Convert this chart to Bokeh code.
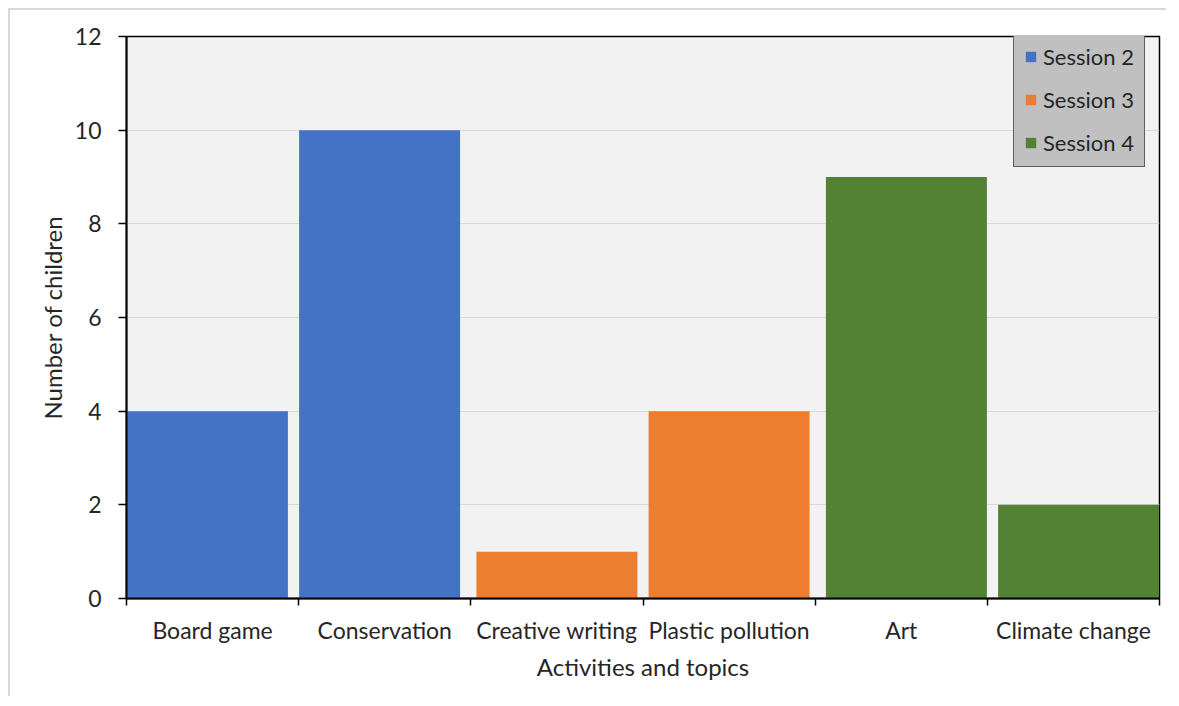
from bokeh.plotting import figure
from bokeh.models import FixedTicker, ColumnDataSource
from bokeh.embed import file_html
from bokeh.resources import INLINE

categories = ["Board game", "Conservation", "Creative writing",
              "Plastic pollution", "Art", "Climate change"]
sessions = ["Session 2", "Session 2", "Session 3", "Session 3", "Session 4", "Session 4"]
values = [4, 10, 1, 4, 9, 2]
session_names = ["Session 2", "Session 3", "Session 4"]
y_ticks = [0, 2, 4, 6, 8, 10, 12]

colors = {"Session 2": "#4472C4", "Session 3": "#ED7D31", "Session 4": "#548235"}
offsets = {"Session 2": -0.03, "Session 3": 0.0, "Session 4": 0.03}

FONT = "Lato"
TXT = "#262626"

p = figure(width=1158, height=688, output_backend="svg", toolbar_location=None,
           x_range=(0, len(categories)), y_range=(0, 12),
           min_border_left=116, min_border_right=9, min_border_top=26, min_border_bottom=100)

for s in session_names:
    idx = [i for i, ss in enumerate(sessions) if ss == s]
    src = ColumnDataSource(dict(
        x=[i + 0.5 + offsets[s] for i in idx],
        top=[values[i] for i in idx],
    ))
    p.vbar(x="x", top="top", width=0.935, bottom=0, source=src,
           fill_color=colors[s], line_color=None, legend_label=s)

p.background_fill_color = "#F2F2F2"
p.border_fill_color = "white"
p.outline_line_color = "black"
p.outline_line_width = 1.5

p.xgrid.grid_line_color = None
p.ygrid.grid_line_color = "#D9D9D9"
p.ygrid.grid_line_width = 1

# x axis
xa = p.xaxis[0]
xa.ticker = FixedTicker(ticks=[i + 0.5 for i in range(len(categories))],
                        minor_ticks=list(range(len(categories) + 1)))
xa.major_label_overrides = {i + 0.5: c for i, c in enumerate(categories)}
xa.major_tick_out = 0
xa.major_tick_in = 0
xa.minor_tick_out = 7
xa.minor_tick_in = 0
xa.minor_tick_line_color = "black"
xa.minor_tick_line_width = 1.5
xa.axis_line_color = "black"
xa.axis_line_width = 2
xa.major_label_standoff = 10
xa.axis_label = "Activities and topics"
xa.axis_label_standoff = 5

# y axis
ya = p.yaxis[0]
ya.ticker = FixedTicker(ticks=y_ticks)
ya.major_tick_out = 8
ya.major_tick_in = 0
ya.minor_tick_out = 0
ya.minor_tick_in = 0
ya.major_tick_line_color = "black"
ya.major_tick_line_width = 1.5
ya.axis_line_color = "black"
ya.axis_line_width = 2
ya.major_label_standoff = 17
ya.axis_label = "Number of children"
ya.axis_label_standoff = 5

for ax in (xa, ya):
    ax.major_label_text_font = FONT
    ax.major_label_text_font_size = "23px"
    ax.major_label_text_color = TXT
    ax.axis_label_text_font = FONT
    ax.axis_label_text_font_size = "24px"
    ax.axis_label_text_font_style = "normal"
    ax.axis_label_text_color = TXT

lg = p.legend[0]
lg.location = (887, 431)
lg.background_fill_color = "#C0C0C0"
lg.background_fill_alpha = 1
lg.border_line_color = "black"
lg.border_line_width = 1.5
lg.label_text_font = FONT
lg.label_text_font_size = "22px"
lg.label_text_color = TXT
lg.glyph_width = 13
lg.glyph_height = 13
lg.label_height = 26
lg.label_standoff = 6
lg.spacing = 16
lg.padding = 10
lg.margin = 0

p.styles = {"margin-left": "8px", "margin-top": "8px",
            "border-left": "2px solid #D9D9D9", "border-top": "2px solid #D9D9D9"}

open("out.html", "w").write(file_html(p, INLINE))
